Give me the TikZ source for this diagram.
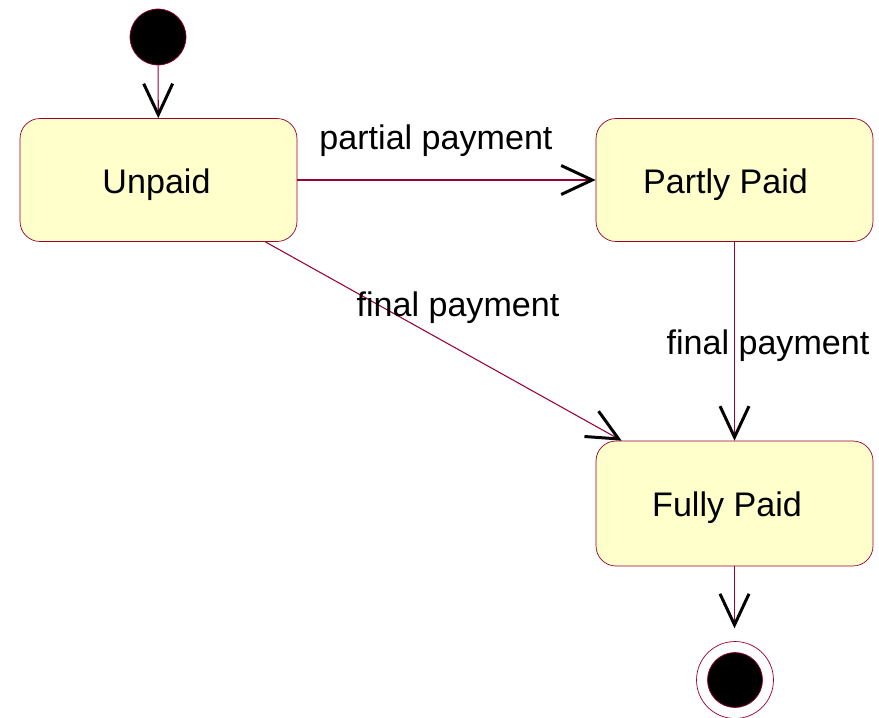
\documentclass[tikz,border=0pt]{standalone}
\usepackage{fontspec}
\setmainfont{Liberation Sans}
\usetikzlibrary{arrows.meta,calc}
\definecolor{umlline}{HTML}{990033}
\definecolor{umlfill}{HTML}{FFFFCC}
\tikzset{
    state/.style={draw=umlline,fill=umlfill,rounded corners=0.4cm,minimum width=5.54cm,minimum height=2.46cm,text height=15pt,text depth=0pt,font=\fontsize{19.4}{23}\selectfont},
    dot/.style={circle,draw=umlline,fill=black,inner sep=0pt},
    trans/.style={draw=umlline,line width=0.6pt,-{Straight Barb[length=0.62cm,width=0.58cm,color=black,line width=1.7pt]}},
    lbl/.style={font=\fontsize{19.4}{23}\selectfont,inner sep=0pt}
}

\begin{document}
\begin{tikzpicture}[x=0.02cm,y=-0.02cm]
		\useasboundingbox (0,0) rectangle (879,717);
		% states
		\node[dot,minimum size=1.12cm] (init) at (158,37) {};
		\node[state] (unpaid) at (158.5,180) {\hspace*{-0.08cm}Unpaid};
		\node[state] (partly) at (734.5,180) {\hspace*{-0.36cm}Partly Paid};
		\node[state,minimum height=2.5cm] (fully) at (734.5,503.5) {\hspace*{-0.3cm}Fully Paid};
		\node[circle,draw=umlline,fill=white,minimum size=1.54cm,inner sep=0pt] (final) at (735,680) {};
		\node[dot,minimum size=1.1cm] (finaldot) at (final) {};
		% transitions
		\draw[trans] (init) -- (unpaid);
		\draw[trans] (unpaid) -- (partly);
		\draw[trans] ($(unpaid.south east)+(-32,0)$) -- ($(fully.north west)+(26,0)$);
		\draw[trans] (partly) -- (fully);
		\draw[trans] (fully.south) -- ++(0,62) coordinate (e1);
		% labels
		\node[lbl] (lp) at (436,141) {partial payment};
		\node[lbl] (lf1) at (458,308) {final payment};
		\node[lbl] (lf2) at (768,346) {final payment};
	\end{tikzpicture}
\end{document}
